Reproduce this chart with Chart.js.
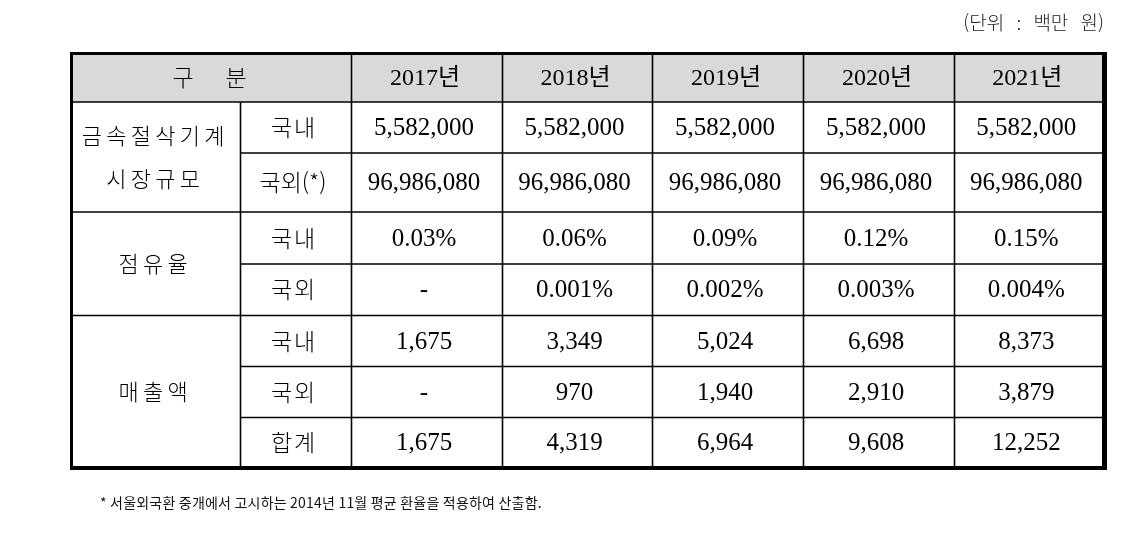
<!DOCTYPE html>
<html lang="ko">
<head>
<meta charset="UTF-8">
<title>금속절삭기계 시장규모</title>
<script src="https://cdn.jsdelivr.net/npm/chart.js"></script>
<style>
  body { margin: 0; background: #fff; }
  #wrap { width: 1136px; height: 535px; }
</style>
</head>
<body>
<div id="wrap"><canvas id="tableChart" width="1136" height="535"></canvas></div>
<script>
// 표 데이터
const years = ['2017년', '2018년', '2019년', '2020년', '2021년'];
const marketDomestic = [5582000, 5582000, 5582000, 5582000, 5582000];
const marketForeign = [96986080, 96986080, 96986080, 96986080, 96986080];
const shareDomestic = [0.03, 0.06, 0.09, 0.12, 0.15];
const shareForeign = [null, 0.001, 0.002, 0.003, 0.004];
const salesDomestic = [1675, 3349, 5024, 6698, 8373];
const salesForeign = [null, 970, 1940, 2910, 3879];
const salesTotal = [1675, 4319, 6964, 9608, 12252];
const headLabel = '구분';
const groupLabels = [['금속절삭기계', '시장규모'], ['점유율'], ['매출액']];
const subLabels = ['국내', '국외(*)', '국내', '국외', '국내', '국외', '합계'];
const unitNote = '(단위 : 백만 원)';
const footNote = '* 서울외국환 중개에서 고시하는 2014년 11월 평균 환율을 적용하여 산출함.';

const num = v => v === null ? '-' : v.toLocaleString('en-US');
const pct = d => v => v === null ? '-' : v.toFixed(d) + '%';

const bodyRows = [
    marketDomestic.map(num),
    marketForeign.map(num),
    shareDomestic.map(pct(2)),
    shareForeign.map(pct(3)),
    salesDomestic.map(num),
    salesForeign.map(num),
    salesTotal.map(num)
];

// 레이아웃 (축 단위 = 픽셀)
const layout = {
    colEdges: [71.5, 240.5, 351.5, 502.5, 652.5, 803.5, 954.5, 1104],
    rowEdges: [53.5, 102, 153, 212, 264, 315.5, 366.5, 417.5, 468],
    groupSpans: [[1, 3], [3, 5], [5, 8]],
    border: { left: 70, top: 52, right: 1107, bottom: 470, wl: 3, wt: 3, wr: 5, wb: 4 }
};

const serif = "'Liberation Serif', 'Noto Sans CJK KR', serif";
const kor = "'Noto Sans CJK KR', sans-serif";

const tablePlugin = {
    id: 'tablePlugin',
    afterDraw(chart) {
        const ctx = chart.ctx;
        const X = v => chart.scales.x.getPixelForValue(v);
        const Y = v => chart.scales.y.getPixelForValue(v);
        const c = layout.colEdges, r = layout.rowEdges, b = layout.border;
        const last = c.length - 1;

        ctx.save();
        // 헤더 배경
        ctx.fillStyle = '#d9d9d9';
        ctx.fillRect(X(c[0]), Y(r[0]), X(c[last]) - X(c[0]), Y(r[1]) - Y(r[0]));

        // 안쪽 선
        ctx.strokeStyle = '#000';
        ctx.lineWidth = 1.6;
        const fullRows = [1, 3, 5];
        for (let i = 1; i < r.length - 1; i++) {
            const x0 = fullRows.includes(i) ? c[0] : c[1];
            ctx.beginPath();
            ctx.moveTo(X(x0), Y(r[i]));
            ctx.lineTo(X(c[last]), Y(r[i]));
            ctx.stroke();
        }
        for (let j = 1; j < last; j++) {
            const y0 = j === 1 ? r[1] : r[0];
            ctx.beginPath();
            ctx.moveTo(X(c[j]), Y(y0));
            ctx.lineTo(X(c[j]), Y(r[r.length - 1]));
            ctx.stroke();
        }

        // 바깥 테두리
        ctx.fillStyle = '#000';
        ctx.fillRect(X(b.left), Y(b.top), X(b.right) - X(b.left), b.wt);
        ctx.fillRect(X(b.left), Y(b.bottom) - b.wb, X(b.right) - X(b.left), b.wb);
        ctx.fillRect(X(b.left), Y(b.top), b.wl, Y(b.bottom) - Y(b.top));
        ctx.fillRect(X(b.right) - b.wr, Y(b.top), b.wr, Y(b.bottom) - Y(b.top));

        // 글자 간격을 둔 한글
        const spaced = (text, cx, cy, pitch) => {
            const chars = [...text];
            chars.forEach((ch, k) => {
                ctx.fillText(ch, cx + (k - (chars.length - 1) / 2) * pitch, cy);
            });
        };

        ctx.fillStyle = '#000';
        ctx.textAlign = 'center';
        ctx.textBaseline = 'middle';
        const midY = i => (Y(r[i]) + Y(r[i + 1])) / 2;
        const midX = j => (X(c[j]) + X(c[j + 1])) / 2;

        // 헤더
        ctx.font = '300 23px ' + kor;
        spaced(headLabel, (X(c[0]) + X(c[2])) / 2 - 2, midY(0), 53);
        ctx.font = '24px ' + serif;
        years.forEach((y, j) => ctx.fillText(y, midX(j + 2) - 2, midY(0) + 1));

        // 구분 열
        ctx.font = '300 22px ' + kor;
        layout.groupSpans.forEach((span, g) => {
            const cy = (Y(r[span[0]]) + Y(r[span[1]])) / 2;
            const lines = groupLabels[g];
            const lh = 43;
            lines.forEach((ln, k) => {
                spaced(ln, midX(0) - 3, cy + (k - (lines.length - 1) / 2) * lh, 24.5);
            });
        });
        ctx.font = '300 23px ' + kor;
        subLabels.forEach((s, i) => {
            if (s.includes('(')) {
                ctx.fillText(s, midX(1) - 3, midY(i + 1));
            } else {
                spaced(s, midX(1) - 3, midY(i + 1), 23);
            }
        });

        // 값
        ctx.font = '25px ' + serif;
        bodyRows.forEach((row, i) => {
            row.forEach((v, j) => ctx.fillText(v, midX(j + 2) - 3, midY(i + 1) + 1));
        });

        // 단위, 주석
        ctx.font = '300 19px ' + kor;
        ctx.textAlign = 'right';
        ctx.fillStyle = '#222';
        ctx.wordSpacing = '8px';
        ctx.fillText(unitNote, X(1104), Y(23));
        ctx.wordSpacing = '0px';
        ctx.font = '14px ' + kor;
        ctx.textAlign = 'left';
        ctx.fillStyle = '#111';
        ctx.letterSpacing = '0.2px';
        ctx.fillText(footNote, X(100), Y(503));
        ctx.letterSpacing = '0px';
        ctx.restore();
    }
};

new Chart(document.getElementById('tableChart'), {
    type: 'scatter',
    data: { datasets: [] },
    options: {
        responsive: false,
        animation: false,
        events: [],
        layout: { padding: 0 },
        plugins: { legend: { display: false }, tooltip: { enabled: false } },
        scales: {
            x: { type: 'linear', min: 0, max: 1136, display: false },
            y: { type: 'linear', min: 0, max: 535, reverse: true, display: false }
        }
    },
    plugins: [tablePlugin]
});
</script>
</body>
</html>
